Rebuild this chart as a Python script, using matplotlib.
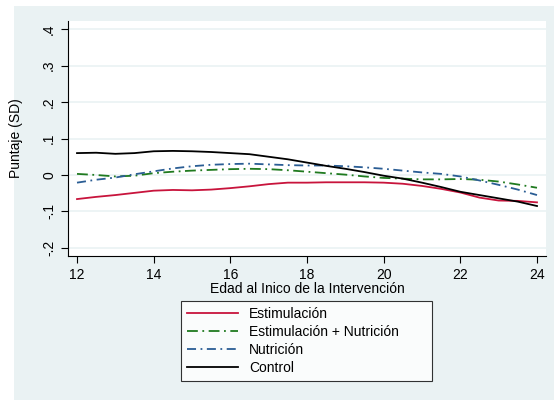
import matplotlib.pyplot as plt
from matplotlib.patches import Rectangle

plt.rcParams['font.family'] = ['Liberation Sans', 'DejaVu Sans']

# edad al inicio (meses)
edad = [12, 12.5, 13, 13.5, 14, 14.5, 15, 15.5, 16, 16.5, 17, 17.5, 18,
        18.5, 19, 19.5, 20, 20.5, 21, 21.5, 22, 22.5, 23, 23.5, 24]

estim = [-0.066, -0.060, -0.055, -0.049, -0.043, -0.041, -0.042, -0.040, -0.036,
         -0.031, -0.025, -0.021, -0.021, -0.020, -0.020, -0.020, -0.021, -0.024,
         -0.030, -0.038, -0.048, -0.062, -0.070, -0.071, -0.075]
estim_nutr = [0.003, 0.000, -0.004, -0.002, 0.005, 0.009, 0.012, 0.014, 0.016,
              0.017, 0.016, 0.013, 0.009, 0.005, 0.001, -0.004, -0.008, -0.010,
              -0.012, -0.012, -0.011, -0.013, -0.018, -0.026, -0.035]
nutr = [-0.021, -0.013, -0.007, 0.002, 0.010, 0.018, 0.024, 0.028, 0.030, 0.031,
        0.029, 0.027, 0.026, 0.026, 0.024, 0.021, 0.017, 0.012, 0.007, 0.003,
        -0.004, -0.015, -0.027, -0.040, -0.055]
control = [0.060, 0.061, 0.058, 0.060, 0.065, 0.066, 0.065, 0.063, 0.060, 0.057,
           0.050, 0.043, 0.034, 0.025, 0.017, 0.008, -0.002, -0.010, -0.021, -0.033,
           -0.046, -0.055, -0.064, -0.073, -0.085]

xticks = [12, 14, 16, 18, 20, 22, 24]
yticks = [-0.2, -0.1, 0, 0.1, 0.2, 0.3, 0.4]
ylabels = ['-.2', '-.1', '0', '.1', '.2', '.3', '.4']

bg = '#eaf2f3'
W, H = 554, 400
fig = plt.figure(figsize=(W / 100, H / 100), dpi=100, facecolor='white')
fig.patches.append(Rectangle((14 / W, 0), 540 / W, 394 / H, transform=fig.transFigure,
                             facecolor=bg, edgecolor='none', zorder=-10))

ax = fig.add_axes([68 / W, (H - 256) / H, (546 - 68) / W, (256 - 21) / H])
ax.set_facecolor('white')

ax.plot(edad, estim, color='#c8143c', lw=1.3, label='Estimulación')
ax.plot(edad, estim_nutr, color='#1f7a1f', lw=1.3, dashes=(6, 2.5, 1, 2.5),
        label='Estimulación + Nutrición')
ax.plot(edad, nutr, color='#2a5d94', lw=1.3, dashes=(5, 2.5, 1, 2.5), label='Nutrición')
ax.plot(edad, control, color='black', lw=1.3, label='Control')

ax.set_xlim(11.765, 24.235)
ax.set_ylim(-0.222, 0.422)
ax.set_xticks(xticks)
ax.set_yticks(yticks)
ax.set_yticklabels(ylabels, rotation=90, va='center')
ax.tick_params(labelsize=10, length=5, width=0.8)
ax.grid(axis='y', color=bg, lw=1.2)
ax.set_axisbelow(True)
for s in ['top', 'right']:
    ax.spines[s].set_visible(False)

ax.set_xlabel('Edad al Inico de la Intervención', fontsize=10, labelpad=0)
ax.set_ylabel('Puntaje (SD)', fontsize=10, labelpad=14)

leg = fig.legend(loc='upper left', bbox_to_anchor=(181 / W, (H - 384) / H, (432 - 181) / W, (384 - 301) / H),
                 mode='expand', fontsize=10, frameon=True, fancybox=False,
                 edgecolor='black', handlelength=3.7, labelspacing=0.3, borderaxespad=0)
leg.get_frame().set_linewidth(0.8)

fig.savefig('out.png', dpi=100, facecolor=fig.get_facecolor())
